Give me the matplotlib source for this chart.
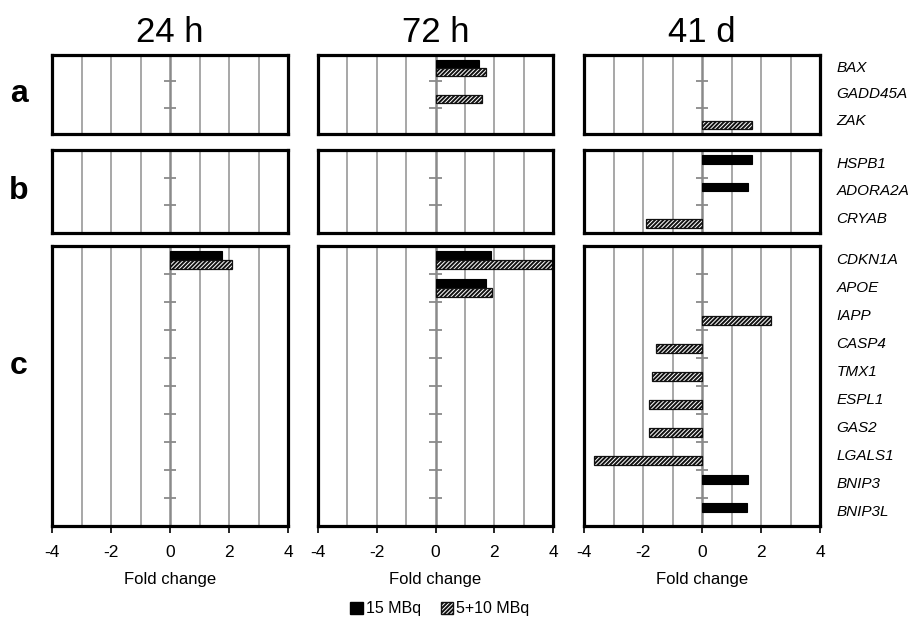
import numpy as np
import matplotlib
matplotlib.use("Agg")
import matplotlib.pyplot as plt
from matplotlib.patches import Patch

plt.rcParams['font.family'] = ['Liberation Sans', 'DejaVu Sans']
plt.rcParams['hatch.linewidth'] = 1.4
plt.rcParams['hatch.color'] = '#111111'

nan = np.nan
timepoints = ['24 h', '72 h', '41 d']
row_labels = ['a', 'b', 'c']
genes_a = ['BAX', 'GADD45A', 'ZAK']
genes_b = ['HSPB1', 'ADORA2A', 'CRYAB']
genes_c = ['CDKN1A', 'APOE', 'IAPP', 'CASP4', 'TMX1', 'ESPL1', 'GAS2',
           'LGALS1', 'BNIP3', 'BNIP3L']
series_names = ['15 MBq', '5+10 MBq']

# 15 MBq values, per timepoint, per row
mbq15_24h_a = [nan, nan, nan]
mbq15_24h_b = [nan, nan, nan]
mbq15_24h_c = [1.76, nan, nan, nan, nan, nan, nan, nan, nan, nan]
mbq15_72h_a = [1.49, nan, nan]
mbq15_72h_b = [nan, nan, nan]
mbq15_72h_c = [1.90, 1.72, nan, nan, nan, nan, nan, nan, nan, nan]
mbq15_41d_a = [nan, nan, nan]
mbq15_41d_b = [1.69, 1.57, nan]
mbq15_41d_c = [nan, nan, nan, nan, nan, nan, nan, nan, 1.57, 1.51]

# 5+10 MBq values
mbq510_24h_a = [nan, nan, nan]
mbq510_24h_b = [nan, nan, nan]
mbq510_24h_c = [2.10, nan, nan, nan, nan, nan, nan, nan, nan, nan]
mbq510_72h_a = [1.72, 1.57, nan]
mbq510_72h_b = [nan, nan, nan]
mbq510_72h_c = [4.0, 1.92, nan, nan, nan, nan, nan, nan, nan, nan]
mbq510_41d_a = [nan, nan, 1.71]
mbq510_41d_b = [nan, nan, -1.89]
mbq510_41d_c = [nan, nan, 2.35, -1.56, -1.69, -1.78, -1.81, -3.66, nan, nan]

xticks = [-4, -2, 0, 2, 4]
xlabel = 'Fold change'

genes = [genes_a, genes_b, genes_c]
data15 = [[mbq15_24h_a, mbq15_24h_b, mbq15_24h_c],
          [mbq15_72h_a, mbq15_72h_b, mbq15_72h_c],
          [mbq15_41d_a, mbq15_41d_b, mbq15_41d_c]]
data510 = [[mbq510_24h_a, mbq510_24h_b, mbq510_24h_c],
           [mbq510_72h_a, mbq510_72h_b, mbq510_72h_c],
           [mbq510_41d_a, mbq510_41d_b, mbq510_41d_c]]

W, H = 921, 620
fig = plt.figure(figsize=(W / 100, H / 100), dpi=100)

col_px = [(52, 288), (318, 553), (584, 820)]
row_px = [(55, 134), (150, 233), (246, 526)]

grid_col = '#a0a0a0'
zero_col = '#8a8a8a'
bar_h = 0.31
hatch = '////////'

for ci in range(3):
    for ri in range(3):
        x0, x1 = col_px[ci]
        y0, y1 = row_px[ri]
        ax = fig.add_axes([x0 / W, 1 - y1 / H, (x1 - x0) / W, (y1 - y0) / H])
        n = len(genes[ri])
        pos = np.arange(n)
        ax.set_xlim(-4, 4)
        ax.set_ylim(n - 0.5, -0.5)
        ax.vlines([-3, -2, -1, 1, 2, 3], -0.5, n - 0.5, color=grid_col,
                  lw=1.3, zorder=1)
        ax.vlines([0], -0.5, n - 0.5, color=zero_col, lw=1.8, zorder=6)
        ax.hlines(np.arange(n + 1) - 0.5, -0.22, 0.22, color=zero_col, lw=1.3,
                  zorder=6, clip_on=False)
        v15 = np.array(data15[ci][ri], dtype=float)
        v510 = np.array(data510[ci][ri], dtype=float)
        m15 = np.isfinite(v15)
        m510 = np.isfinite(v510)
        if m15.any():
            ax.barh(pos[m15] - bar_h / 2, v15[m15], height=bar_h,
                    color='black', edgecolor='black', lw=0.8, zorder=6.5)
        if m510.any():
            ax.barh(pos[m510] + bar_h / 2, v510[m510], height=bar_h,
                    color='white', edgecolor='#111111', hatch=hatch, lw=0.9,
                    zorder=6.5)
        ax.set_yticks([])
        for s in ax.spines.values():
            s.set_linewidth(2.3)
            s.set_color('black')
            s.set_zorder(7)
        if ri == 2:
            ax.set_xticks(xticks)
            ax.set_xticklabels([str(t) for t in xticks], fontsize=12.5)
            ax.tick_params(axis='x', direction='out', length=5, width=1.2,
                           pad=9, colors='black')
            ax.set_xlabel(xlabel, fontsize=12, labelpad=8)
        else:
            ax.set_xticks([])
        if ri == 0:
            ax.set_title(timepoints[ci], fontsize=25, pad=9)
        if ci == 0:
            ax.text(-0.14, 0.5 if ri < 2 else 0.57, row_labels[ri],
                    transform=ax.transAxes, fontsize=23, fontweight='bold',
                    ha='center', va='center')
        if ci == 2:
            for p, g in zip(pos, genes[ri]):
                ax.text(1.07, p, g, transform=ax.get_yaxis_transform(),
                        fontsize=11, style='italic', ha='left', va='center')

handles = [Patch(facecolor='black', edgecolor='black', label=series_names[0]),
           Patch(facecolor='white', edgecolor='#111111', hatch=hatch,
                 label=series_names[1])]
fig.legend(handles=handles, loc='center', bbox_to_anchor=(440 / W, 1 - 609 / H),
           ncol=2, frameon=False, fontsize=11.5, handlelength=0.8,
           handleheight=0.8, handletextpad=0.2, columnspacing=1.2)

fig.savefig('out.png', dpi=100)
